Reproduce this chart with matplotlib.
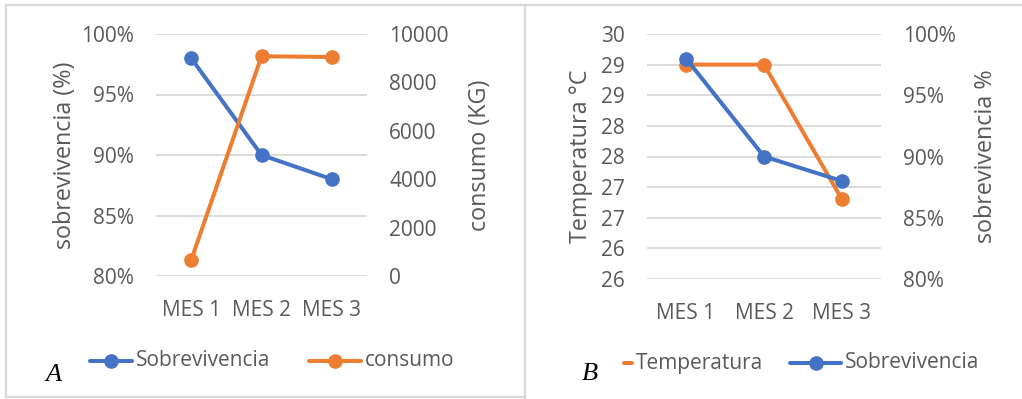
import matplotlib
matplotlib.use("Agg")
import matplotlib.pyplot as plt
from matplotlib.lines import Line2D
from matplotlib.ticker import FixedLocator, FixedFormatter

# ---------------- data ----------------
meses = ["MES 1", "MES 2", "MES 3"]
sobrevivencia = [0.98, 0.90, 0.88]
consumo_kg = [650, 9080, 9050]
temperatura = [29.5, 29.5, 27.3]

surv_ticks = [0.80, 0.85, 0.90, 0.95, 1.00]
surv_ticklabels = ["80%", "85%", "90%", "95%", "100%"]
consumo_ticks = [0, 2000, 4000, 6000, 8000, 10000]
temp_ticks = [26.0, 26.5, 27.0, 27.5, 28.0, 28.5, 29.0, 29.5, 30.0]
temp_ticklabels = ["26", "26", "27", "27", "28", "28", "29", "29", "30"]

BLUE = "#4472C4"
ORANGE = "#ED7D31"
GRAY_TXT = "#595959"
GRID = "#D9D9D9"
FONT = "Open Sans"
FS = 15
FSL = 16.8

W, H = 1022, 399
fig = plt.figure(figsize=(W / 100, H / 100), dpi=100)
plt.rcParams["font.family"] = [FONT, "DejaVu Sans"]


def fx(px):
    return px / W


def fy(py):
    return 1 - py / H


def make_axes(left, right, top, bottom):
    return fig.add_axes([fx(left), fy(bottom), fx(right - left), (bottom - top) / H])


def style(ax):
    for s in ax.spines.values():
        s.set_visible(False)
    ax.tick_params(length=0, pad=16, labelsize=FS, colors=GRAY_TXT)
    ax.set_xlim(-0.5, 2.5)


lw, ms = 2.9, 9.5

# ---------------- Panel A ----------------
axA = make_axes(156, 367, 34, 276)
style(axA)
axA.set_ylim(0.80, 1.00)
axA.yaxis.set_major_locator(FixedLocator(surv_ticks))
axA.yaxis.set_major_formatter(FixedFormatter(surv_ticklabels))
axA.grid(axis="y", color=GRID, lw=1.3)
axA.set_axisbelow(True)
axA.set_xticks(range(len(meses)))
axA.set_xticklabels(meses)
axA.tick_params(axis="x", pad=17)
axA.plot(range(3), sobrevivencia, color=BLUE, lw=lw, marker="o", ms=ms, solid_capstyle="round")
axA.set_ylabel("sobrevivencia (%)", fontsize=FSL, color=GRAY_TXT, labelpad=3)

axA2 = axA.twinx()
style(axA2)
axA2.set_ylim(0, 10000)
axA2.set_yticks(consumo_ticks)
axA2.plot(range(3), consumo_kg, color=ORANGE, lw=lw, marker="o", ms=ms, solid_capstyle="round")
axA2.set_ylabel("consumo (KG)", fontsize=FSL, color=GRAY_TXT, labelpad=14)

# ---------------- Panel B ----------------
axB = make_axes(647, 881, 34, 279)
style(axB)
axB.set_ylim(26, 30)
axB.yaxis.set_major_locator(FixedLocator(temp_ticks))
axB.yaxis.set_major_formatter(FixedFormatter(temp_ticklabels))
axB.grid(axis="y", color=GRID, lw=1.3)
axB.set_axisbelow(True)
axB.set_xticks(range(len(meses)))
axB.set_xticklabels(meses)
axB.tick_params(axis="x", pad=17)
axB.plot(range(3), temperatura, color=ORANGE, lw=lw, marker="o", ms=ms, solid_capstyle="round")
axB.set_ylabel("Temperatura °C", fontsize=FSL, color=GRAY_TXT, labelpad=6)

axB2 = axB.twinx()
style(axB2)
axB2.set_ylim(0.80, 1.00)
axB2.yaxis.set_major_locator(FixedLocator(surv_ticks))
axB2.yaxis.set_major_formatter(FixedFormatter(surv_ticklabels))
axB2.plot(range(3), sobrevivencia, color=BLUE, lw=lw, marker="o", ms=ms, solid_capstyle="round")
axB2.set_ylabel("sobrevivencia %", fontsize=FSL, color=GRAY_TXT, labelpad=13)

# ---------------- legends (drawn manually) ----------------
def leg_line(x0, x1, y, color, marker=True):
    fig.add_artist(Line2D([fx(x0), fx(x1)], [fy(y), fy(y)], color=color, lw=lw,
                          transform=fig.transFigure, solid_capstyle="round"))
    if marker:
        fig.add_artist(Line2D([fx((x0 + x1) / 2)], [fy(y)], color=color, marker="o", ms=ms,
                              transform=fig.transFigure))


def leg_text(x, y, s):
    fig.text(fx(x), fy(y), s, fontsize=FS, color=GRAY_TXT, va="center", ha="left")


leg_line(90, 132, 361, BLUE)
leg_text(136, 361, "Sobrevivencia")
leg_line(309, 361, 361, ORANGE)
leg_text(365, 361, "consumo")

leg_line(624, 632, 363, ORANGE, marker=False)
leg_text(636, 363, "Temperatura")
leg_line(790, 841, 363, BLUE)
leg_text(845, 363, "Sobrevivencia")

# panel letters
fig.text(fx(54), fy(381), "A", fontsize=19, family="Liberation Serif", style="italic",
         ha="center", va="baseline", color="black")
fig.text(fx(590), fy(380), "B", fontsize=19, family="Liberation Serif", style="italic",
         ha="center", va="baseline", color="black")

# panel borders
bc, bw = "#D9D9D9", 1.6
for xs, ys in [((6, 1022), (5, 5)), ((6, 6), (5, 397)), ((525, 525), (5, 399)), ((6, 525), (397, 397))]:
    fig.add_artist(Line2D([fx(xs[0]), fx(xs[1])], [fy(ys[0]), fy(ys[1])], color=bc, lw=bw,
                          transform=fig.transFigure))

fig.savefig("out.png", dpi=100, facecolor="white")
